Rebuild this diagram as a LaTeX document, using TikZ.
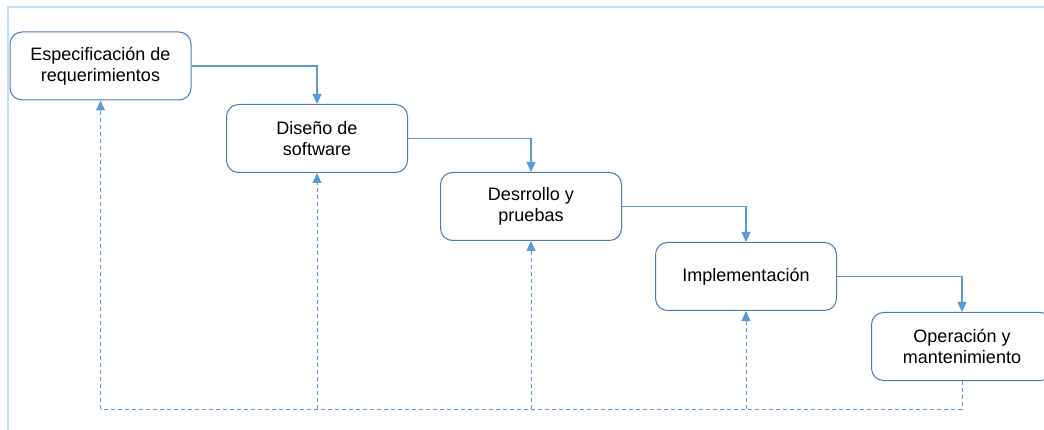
\documentclass[tikz,border=0pt]{standalone}
\usepackage{fontspec}
\setmainfont{Liberation Sans}
\usetikzlibrary{arrows.meta,calc}
\definecolor{boxline}{HTML}{4A7DB5}
\definecolor{flow}{HTML}{5B9BD5}
\definecolor{frameline}{HTML}{C6E2F2}
\tikzset{
  phase/.style={draw=boxline, line width=1pt, rounded corners=12pt, fill=white,
    minimum width=181pt, minimum height=68pt, align=center,
    font=\fontsize{18}{20.5}\selectfont, inner sep=0pt},
  flowarrow/.style={draw=flow, line width=1.1pt, -{Triangle[width=9pt,length=10pt]}},
  backline/.style={draw=flow, line width=1pt, dash pattern=on 4pt off 3pt},
  backarrow/.style={backline, -{Triangle[width=9pt,length=10pt]}}
}
\begin{document}
\begin{tikzpicture}[x=1pt,y=-1pt]
\useasboundingbox (0,0) rectangle (1044,430);
% outer frame
\draw[frameline, line width=2pt] (8,430) -- (8,7) -- (1044,7);

% phases
\node[phase] (req) at (100.5,66) {Especificación de\\requerimientos};
\node[phase] (dis) at (317,138.5) {Diseño de\\software};
\node[phase] (des) at (531,206.5) {Desrrollo y\\pruebas};
\node[phase] (imp) at (746,276.5) {Implementación};
\node[phase] (ope) at (962,346.5) {Operación y\\mantenimiento};

% forward flow
\draw[flowarrow] (req.east) -| (dis.north);
\draw[flowarrow] (dis.east) -| (des.north);
\draw[flowarrow] (des.east) -| (imp.north);
\draw[flowarrow] (imp.east) -| (ope.north);

% feedback path
\coordinate (fbR) at ($(ope.south)+(0,28)$);
\coordinate (fbL) at (req.south |- fbR);
\draw[backline] (ope.south) -- (fbR) -- (fbL);
\foreach \n in {req,dis,des,imp}{
  \draw[backarrow] (\n.south |- fbR) -- (\n.south);
}
\end{tikzpicture}
\end{document}
